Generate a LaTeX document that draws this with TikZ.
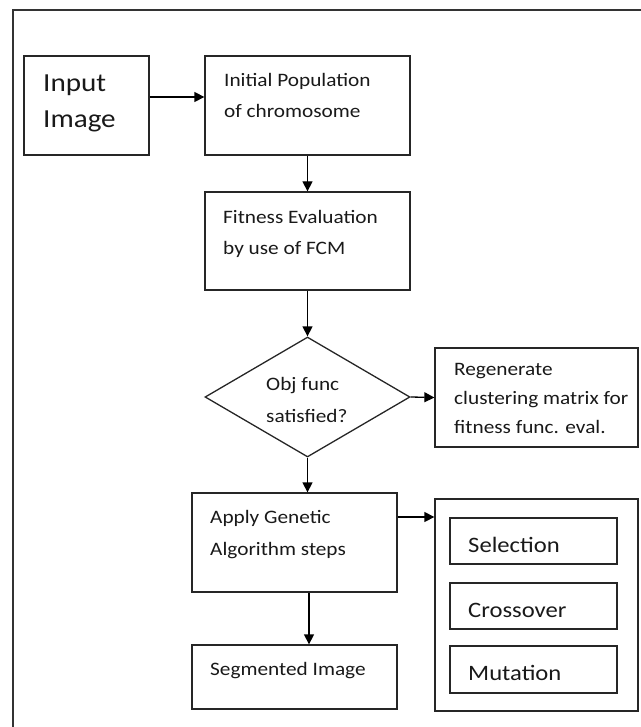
\documentclass[tikz,border=0pt]{standalone}
\usepackage{fontspec}
\setmainfont{Carlito}[FakeStretch=1.12]
\usetikzlibrary{arrows.meta,shapes.geometric}
\begin{document}
\begin{tikzpicture}[x=1pt,y=-1pt,
  box/.style={draw=black!85,line width=1.3pt,rectangle,inner sep=0pt},
  dia/.style={draw=black!85,line width=1.3pt,diamond,inner sep=0pt,minimum width=205pt,minimum height=120pt,shape aspect=1.708},
  txt/.style={anchor=base west,inner sep=0pt,font=\fontsize{19}{23}\selectfont,text=black!90},
  bigtxt/.style={txt,font=\fontsize{26}{30}\selectfont},
  midtxt/.style={txt,font=\fontsize{22}{26}\selectfont},
  arr/.style={draw=black,line width=1.3pt,-{Triangle[length=10pt,width=10pt]}}]
\useasboundingbox (0,0) rectangle (640,727);
\draw[line width=1.5pt,draw=black!80] (13,745) -- (13,10) -- (660,10);
% boxes
\node[box,minimum width=125pt,minimum height=99pt] (inp) at (86.5,105.5) {};
\node[box,minimum width=205pt,minimum height=99pt] (init) at (307.5,105.5) {};
\node[box,minimum width=205pt,minimum height=98pt] (fit) at (307.5,241) {};
\node[dia] (obj) at (307.5,397) {};
\node[box,minimum width=203pt,minimum height=99pt] (regen) at (536.5,397.5) {};
\node[box,minimum width=205pt,minimum height=99pt] (app) at (294.5,542.5) {};
\node[box,minimum width=205pt,minimum height=64pt] (seg) at (294.5,677) {};
\node[box,minimum width=203pt,minimum height=212pt] (ga) at (536.5,605) {};
\node[box,minimum width=167pt,minimum height=46pt] (sel) at (533.5,541) {};
\node[box,minimum width=167pt,minimum height=46pt] (cro) at (533.5,606) {};
\node[box,minimum width=167pt,minimum height=47pt] (mut) at (533.5,669.5) {};
% texts
\node[bigtxt] (t1) at (43,92) {Input};
\node[bigtxt] (t2) at (43,128) {Image};
\node[txt] (t3) at (224,87) {Initial Population};
\node[txt] (t4) at (224,118) {of chromosome};
\node[txt] (t5) at (223,223) {Fitness Evaluation};
\node[txt] (t6) at (223,254) {by use of FCM};
\node[txt] (t7) at (266,390) {Obj func};
\node[txt] (t8) at (266,422) {satisfied?};
\node[txt] (t9) at (454,375) {Regenerate};
\node[txt] (t10) at (454,404) {clustering matrix for};
\node[txt] (t11) at (454,433) {fitness func. eval.};
\node[txt] (t12) at (210,523) {Apply Genetic};
\node[txt] (t13) at (210,555) {Algorithm steps};
\node[txt] (t14) at (210,675) {Segmented Image};
\node[midtxt] (t15) at (468,552) {Selection};
\node[midtxt] (t16) at (468,617) {Crossover};
\node[midtxt] (t17) at (468,680) {Mutation};
% connectors
\draw[arr] ([yshift=8.5pt]inp.east) -- ([yshift=8.5pt]init.west);
\draw[arr] (init.south) -- (fit.north);
\draw[arr] (fit.south) -- (obj.north);
\draw[arr] (obj.east) -- (regen.west);
\draw[arr] (obj.south) -- (obj.south |- app.north);
\draw[arr] ([xshift=14.5pt]app.south) -- ([xshift=14.5pt]seg.north);
\draw[arr] ([yshift=25.5pt]app.east) -- ([yshift=25.5pt]app.east -| ga.west);
\end{tikzpicture}
\end{document}
